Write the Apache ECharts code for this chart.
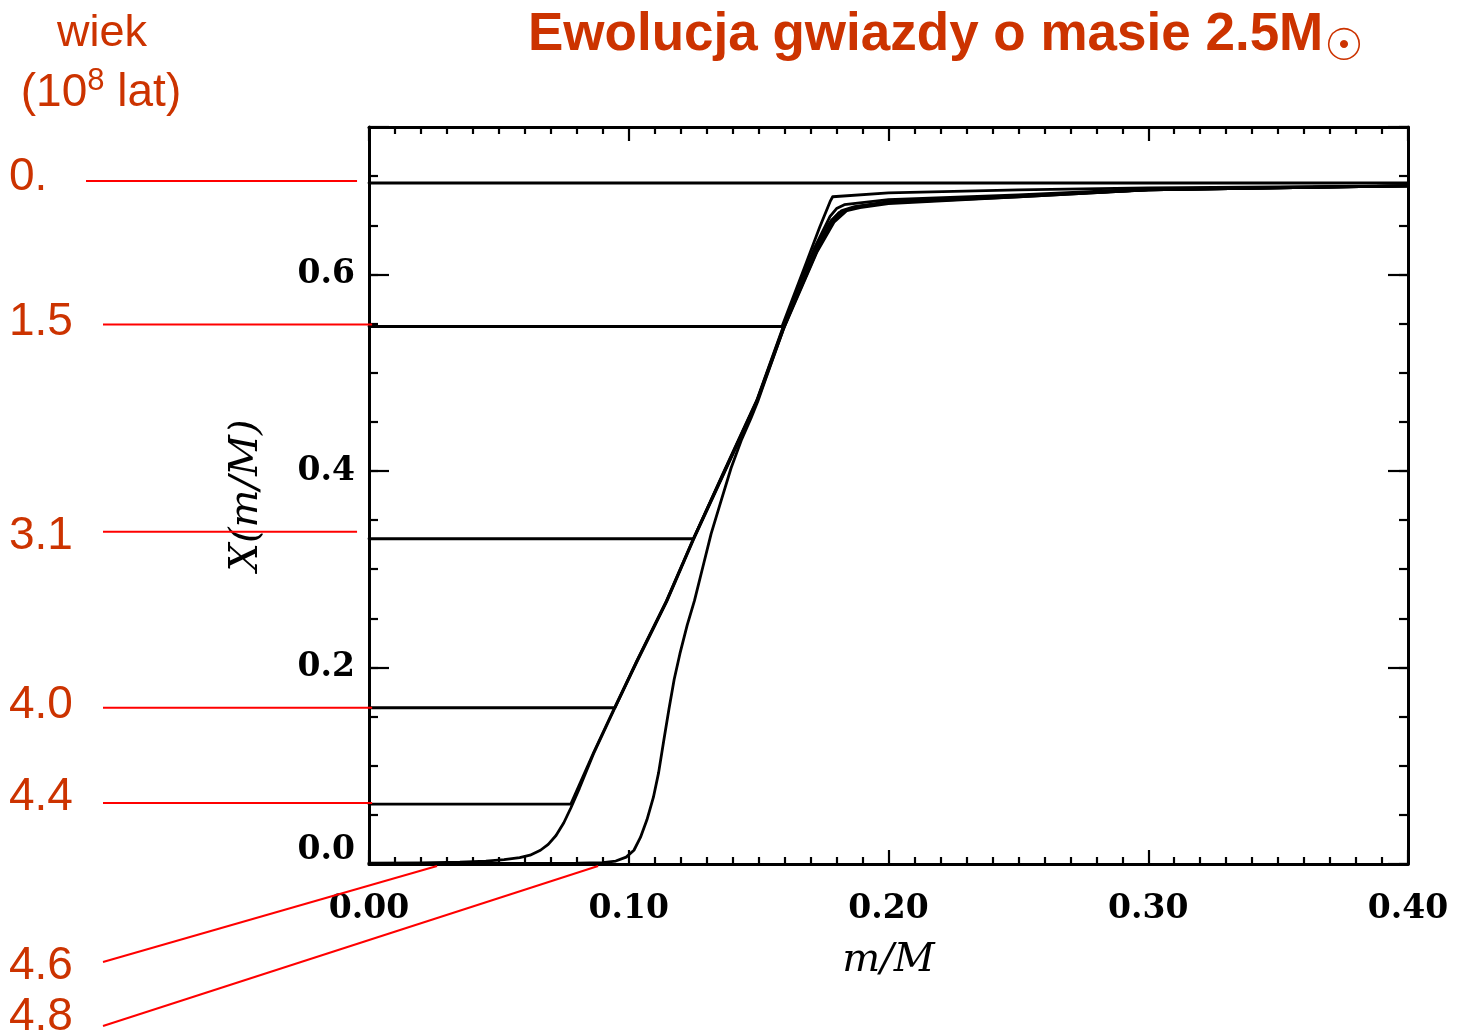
<!DOCTYPE html>
<html>
<head>
<meta charset="utf-8">
<script src="https://cdn.jsdelivr.net/npm/echarts@6/dist/echarts.min.js"></script>
<style>
  html, body { margin: 0; padding: 0; background: #fff; }
  #chart { width: 1462px; height: 1035px; }
</style>
</head>
<body>
<div id="chart"></div>
<script>
// Hydrogen abundance X(m/M) in a 2.5 solar-mass star, one profile per age (in 10^8 yr)
const ageLabels = ['0.', '1.5', '3.1', '4.0', '4.4', '4.6', '4.8'];

const xTickLabels = ['0.00', '0.10', '0.20', '0.30', '0.40'];
const yTickLabels = ['0.0', '0.2', '0.4', '0.6'];

const profileAge00 = [[0.000, 0.693], [0.400, 0.693]];

const profileAge15 = [[0.000, 0.547], [0.159, 0.547], [0.1685, 0.613], [0.1735, 0.648],
  [0.1775, 0.674], [0.1785, 0.679], [0.200, 0.683], [0.250, 0.686], [0.300, 0.688], [0.400, 0.690]];

const profileAge31 = [[0.000, 0.331], [0.1249, 0.331], [0.1364, 0.398], [0.1493, 0.472],
  [0.1595, 0.547], [0.1715, 0.627], [0.1775, 0.659], [0.1800, 0.667], [0.1830, 0.671],
  [0.200, 0.676], [0.250, 0.681], [0.300, 0.687], [0.400, 0.690]];

const profileAge40 = [[0.000, 0.159], [0.0947, 0.159], [0.103, 0.206], [0.1146, 0.268],
  [0.1249, 0.331], [0.1364, 0.397], [0.1493, 0.471], [0.1595, 0.546], [0.1720, 0.625],
  [0.1780, 0.655], [0.1820, 0.665], [0.1870, 0.669], [0.200, 0.674], [0.250, 0.680],
  [0.300, 0.686], [0.400, 0.690]];

const profileAge44 = [[0.000, 0.061], [0.0777, 0.061], [0.0864, 0.113], [0.0947, 0.160],
  [0.103, 0.206], [0.1146, 0.268], [0.1249, 0.331], [0.1364, 0.397], [0.1493, 0.471],
  [0.1595, 0.545], [0.1725, 0.624], [0.1785, 0.654], [0.1830, 0.665], [0.1880, 0.669],
  [0.200, 0.673], [0.250, 0.680], [0.300, 0.686], [0.400, 0.690]];

const profileAge46 = [[0.000, 0.0008], [0.020, 0.001], [0.035, 0.0018], [0.045, 0.003],
  [0.052, 0.0045], [0.058, 0.0065], [0.062, 0.009], [0.066, 0.014], [0.069, 0.020],
  [0.072, 0.029], [0.075, 0.042], [0.0777, 0.057], [0.081, 0.077], [0.0864, 0.112],
  [0.0947, 0.159], [0.103, 0.205], [0.1146, 0.267], [0.1249, 0.330], [0.1364, 0.396],
  [0.1493, 0.470], [0.1595, 0.544], [0.1725, 0.623], [0.1790, 0.653], [0.1840, 0.665],
  [0.1890, 0.668], [0.200, 0.672], [0.250, 0.679], [0.300, 0.686], [0.400, 0.690]];

const profileAge48 = [[0.000, 0.0005], [0.080, 0.0008], [0.090, 0.0015], [0.095, 0.003],
  [0.099, 0.007], [0.102, 0.014], [0.1045, 0.027], [0.107, 0.045], [0.1095, 0.068],
  [0.1115, 0.093], [0.1135, 0.126], [0.1155, 0.158], [0.1175, 0.188], [0.1197, 0.214],
  [0.1225, 0.243], [0.1253, 0.268], [0.1285, 0.302], [0.1317, 0.336], [0.1356, 0.370],
  [0.1394, 0.403], [0.1433, 0.431], [0.1471, 0.454], [0.1497, 0.471], [0.1525, 0.492],
  [0.1595, 0.544], [0.1710, 0.620], [0.1770, 0.651], [0.1810, 0.663], [0.1870, 0.668],
  [0.200, 0.673], [0.250, 0.679], [0.300, 0.686], [0.400, 0.690]];

const profiles = [profileAge00, profileAge15, profileAge31, profileAge40,
  profileAge44, profileAge46, profileAge48];

// Where each age pointer touches the plot, in (m/M, X) units
const pointerTargets = [[-0.0046, 0.695], [0.0012, 0.549], [-0.0046, 0.338], [0.0012, 0.159],
  [0.0012, 0.062], [0.0262, -0.002], [0.0882, -0.002]];

// Page layout of the age column (pixels)
const ageLabelY = [177, 322, 536, 705, 797, 966, 1017];
const pointerStartX = [86, 103, 103, 103, 103, 103, 103];
const pointerStartY = [null, null, null, null, null, 962, 1026];

const INK = '#000';
const ACCENT = '#cc3300';
const POINTER = '#ff0000';
const tickFont = { fontFamily: 'DejaVu Serif', fontWeight: 'bold', fontSize: 33, color: INK };
const nameFont = { fontFamily: 'DejaVu Serif', fontStyle: 'italic', fontSize: 40, color: INK };

function frameX(position, withLabels) {
  return {
    type: 'value', position: position, min: 0, max: 0.4, interval: 0.1,
    axisLine: { show: true, onZero: false, lineStyle: { color: INK, width: 3 } },
    axisTick: { show: true, inside: true, length: 14, lineStyle: { color: INK, width: 2.2 } },
    minorTick: { show: true, splitNumber: 10, length: 7, lineStyle: { color: INK, width: 2.2 } },
    splitLine: { show: false },
    axisLabel: withLabels ? Object.assign({
      margin: 29,
      formatter: v => xTickLabels[Math.round(v * 10)] || ''
    }, tickFont) : { show: false },
    name: withLabels ? 'm/M' : '',
    nameLocation: 'middle', nameGap: 77,
    nameTextStyle: nameFont
  };
}

function frameY(position, step, tickLen, withLine, withLabels) {
  return {
    type: 'value', position: position, min: 0, max: 0.75, interval: step,
    axisLine: { show: withLine, onZero: false, lineStyle: { color: INK, width: 3 } },
    axisTick: { show: true, inside: true, length: tickLen, lineStyle: { color: INK, width: 2.2 } },
    splitLine: { show: false },
    axisLabel: withLabels ? Object.assign({
      margin: 14,
      showMaxLabel: false,
      formatter: v => {
        const k = Math.round(v * 20);
        if (k % 4 !== 0 || !yTickLabels[k / 4]) return '';
        // the bottom label sits a little above its tick, clear of the x labels
        return k === 0 ? '{low|' + yTickLabels[0] + '}' : yTickLabels[k / 4];
      },
      rich: { low: Object.assign({ padding: [0, 0, 28, 0] }, tickFont) }
    }, tickFont) : { show: false },
    name: withLabels ? 'X(m/M)' : '',
    nameLocation: 'middle', nameGap: 102,
    nameTextStyle: nameFont
  };
}

const chart = echarts.init(document.getElementById('chart'), null, { renderer: 'canvas' });

chart.setOption({
  animation: false,
  backgroundColor: '#fff',
  grid: { left: 369, top: 127, right: 54, bottom: 171 },
  xAxis: [frameX('bottom', true), frameX('top', false)],
  yAxis: [
    frameY('left', 0.05, 9, true, true),
    frameY('left', 0.2, 20, false, false),
    frameY('right', 0.05, 9, true, false),
    frameY('right', 0.2, 20, false, false)
  ],
  series: profiles.map((data, i) => ({
    name: ageLabels[i],
    type: 'line',
    xAxisIndex: 0,
    yAxisIndex: 0,
    data: data,
    showSymbol: false,
    smooth: false,
    lineStyle: { color: INK, width: 2.8, join: 'round', cap: 'round' },
    z: 3
  }))
});

// Title, age column and red pointers, the pointers anchored to the plot through the axes
const graphics = [
  {
    type: 'text', left: 528, top: 9, z: 10,
    style: { text: 'Ewolucja gwiazdy o masie 2.5M', fill: ACCENT,
      font: 'bold 53px "Liberation Sans", Arial, sans-serif' }
  },
  {
    type: 'text', x: 1344, y: 49, z: 10,
    style: { text: '\u2609', fill: ACCENT, align: 'center', verticalAlign: 'middle',
      font: '44px "DejaVu Sans", sans-serif' }
  },
  {
    type: 'text', x: 102, y: 34, z: 10,
    style: { text: 'wiek', fill: ACCENT, align: 'center', verticalAlign: 'middle',
      font: '45px "Liberation Sans", Arial, sans-serif' }
  },
  {
    type: 'text', x: 101, y: 91, z: 10,
    style: {
      text: '{n|(10}{s|8}{n| lat)}', align: 'center', verticalAlign: 'middle',
      rich: {
        n: { fill: ACCENT, fontSize: 46, fontFamily: 'Liberation Sans', lineHeight: 50, verticalAlign: 'bottom' },
        s: { fill: ACCENT, fontSize: 31, fontFamily: 'Liberation Sans', lineHeight: 50, verticalAlign: 'top' }
      }
    }
  }
];

ageLabels.forEach((label, i) => {
  const end = chart.convertToPixel({ xAxisIndex: 0, yAxisIndex: 0 }, pointerTargets[i]);
  const startY = pointerStartY[i] == null ? end[1] : pointerStartY[i];
  graphics.push({
    type: 'text', x: 9, y: ageLabelY[i], z: 10,
    style: { text: label, fill: ACCENT, align: 'left', verticalAlign: 'middle',
      font: '46px "Liberation Sans", Arial, sans-serif' }
  });
  graphics.push({
    type: 'line', z: 10,
    shape: { x1: pointerStartX[i], y1: startY, x2: end[0], y2: end[1] },
    style: { stroke: POINTER, lineWidth: 2 }
  });
});

chart.setOption({ graphic: graphics });
</script>
</body>
</html>
